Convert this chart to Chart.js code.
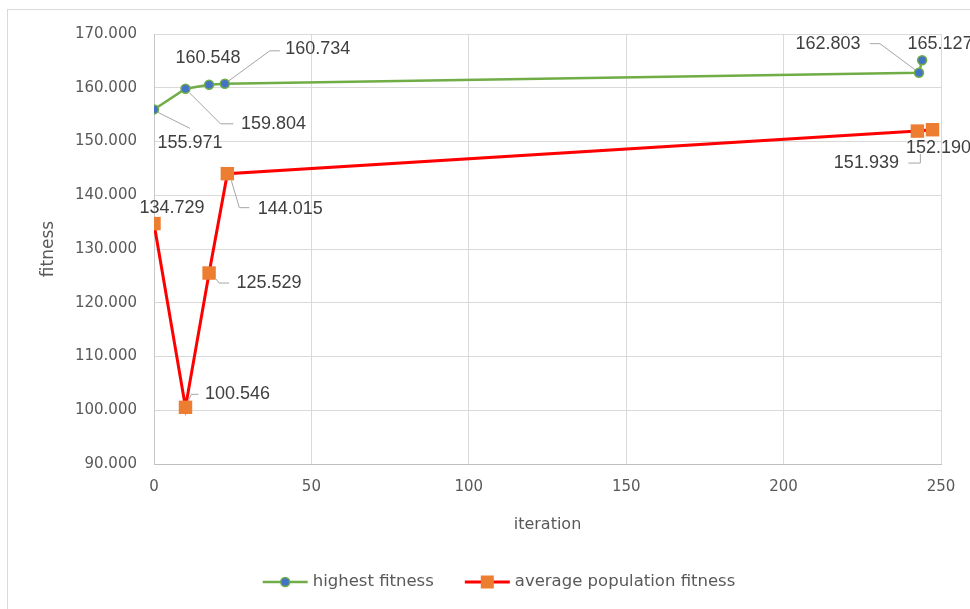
<!DOCTYPE html>
<html>
<head>
<meta charset="utf-8">
<script src="https://cdn.jsdelivr.net/npm/chart.js@4.4.1/dist/chart.umd.min.js"></script>
<style>
  html, body { margin: 0; padding: 0; background: #ffffff; }
  #wrap { width: 970px; height: 609px; position: relative; }
</style>
</head>
<body>
<div id="wrap"><canvas id="c" width="970" height="609"></canvas></div>
<script>
// Iterations at which each series was sampled
const iterHighest = [0, 10, 17.5, 22.5, 243, 244];
const iterAverage = [0, 10, 17.5, 23.3, 242.5, 247.3];

// Fitness values
const highestFitness = [155.971, 159.804, 160.548, 160.734, 162.803, 165.127];
const averageFitness = [134.729, 100.546, 125.529, 144.015, 151.939, 152.190];

// Series names
const seriesNames = ['highest fitness', 'average population fitness'];

// Axis ranges / ticks
const xTicks = [0, 50, 100, 150, 200, 250];
const yTicks = [90, 100, 110, 120, 130, 140, 150, 160, 170];

// Placement of each value label relative to its point (dx, dy) and optional leader line
const labelPlacement = [
  [
    { dx: 36, dy: 34, lead: [[4, 3], [36, 19]] },
    { dx: 88, dy: 35, lead: [[4, 4], [35, 35], [48, 35]] },
    { dx: -1, dy: -27 },
    { dx: 93, dy: -35, lead: [[4, -3], [45, -33], [55, -33]] },
    { dx: -91, dy: -29, lead: [[-49, -29], [-39, -29], [-4, -3]] },
    { dx: 18, dy: -16 }
  ],
  [
    { dx: 18, dy: -16 },
    { dx: 52, dy: -13, lead: [[3, -7], [6, -13], [13, -13]] },
    { dx: 60, dy: 10, lead: [[7, 6], [10, 10], [20, 10]] },
    { dx: 63, dy: 35, lead: [[4, 7], [12, 34], [22, 34]] },
    { dx: -51, dy: 32, lead: [[3, 23], [3, 32], [-9, 32]] },
    { dx: 6, dy: 18 }
  ]
];

const GREEN = '#70AD47', BLUE = '#4472C4', RED = '#FF0000', ORANGE = '#ED7D31';
const TEXT = '#595959', LABEL = '#404040', GRID = '#D9D9D9';

const toPoints = (xs, ys) => xs.map((x, i) => ({ x: x, y: ys[i] }));

const frame = {
  id: 'frame',
  beforeDraw(chart) {
    const ctx = chart.ctx;
    ctx.save();
    ctx.fillStyle = '#ffffff';
    ctx.fillRect(0, 0, chart.width, chart.height);
    ctx.strokeStyle = '#D9D9D9';
    ctx.lineWidth = 1;
    ctx.strokeRect(7.5, 9.5, chart.width + 20, chart.height + 20);
    ctx.restore();
  }
};

const valueLabels = {
  id: 'valueLabels',
  afterDatasetsDraw(chart) {
    const ctx = chart.ctx;
    ctx.save();
    chart.data.datasets.forEach((ds, di) => {
      const meta = chart.getDatasetMeta(di);
      meta.data.forEach((pt, i) => {
        const p = labelPlacement[di][i];
        const x = pt.x, y = pt.y;
        if (p.lead) {
          ctx.beginPath();
          ctx.strokeStyle = '#A6A6A6';
          ctx.lineWidth = 1;
          p.lead.forEach(([a, b], k) => {
            if (k === 0) ctx.moveTo(x + a, y + b); else ctx.lineTo(x + a, y + b);
          });
          ctx.stroke();
        }
        ctx.font = '18px "Liberation Sans"';
        ctx.fillStyle = LABEL;
        ctx.textAlign = 'center';
        ctx.textBaseline = 'middle';
        ctx.fillText(ds.data[i].y.toFixed(3), x + p.dx, y + p.dy);
      });
    });
    ctx.restore();
  }
};

const legendRow = {
  id: 'legendRow',
  afterDraw(chart) {
    const ctx = chart.ctx;
    ctx.save();
    ctx.font = '16.5px "DejaVu Sans"';
    const w1 = ctx.measureText(seriesNames[0]).width;
    const w2 = ctx.measureText(seriesNames[1]).width;
    const sample = 45, gapText = 5, gapItem = 31;
    const total = sample + gapText + w1 + gapItem + sample + gapText + w2;
    let x = 499 - total / 2;
    const y = 582;
    // first entry: green line with blue dot
    ctx.strokeStyle = GREEN; ctx.lineWidth = 2.5;
    ctx.beginPath(); ctx.moveTo(x, y); ctx.lineTo(x + sample, y); ctx.stroke();
    ctx.beginPath(); ctx.arc(x + sample / 2, y, 4.5, 0, Math.PI * 2);
    ctx.fillStyle = BLUE; ctx.fill(); ctx.lineWidth = 1.5; ctx.strokeStyle = GREEN; ctx.stroke();
    ctx.fillStyle = TEXT; ctx.textAlign = 'left'; ctx.textBaseline = 'middle';
    ctx.fillText(seriesNames[0], x + sample + gapText, y);
    x += sample + gapText + w1 + gapItem;
    // second entry: red line with orange square
    ctx.strokeStyle = RED; ctx.lineWidth = 3;
    ctx.beginPath(); ctx.moveTo(x, y); ctx.lineTo(x + sample, y); ctx.stroke();
    ctx.fillStyle = ORANGE;
    ctx.fillRect(x + sample / 2 - 6.5, y - 6.5, 13, 13);
    ctx.fillStyle = TEXT;
    ctx.fillText(seriesNames[1], x + sample + gapText, y);
    ctx.restore();
  }
};

new Chart(document.getElementById('c'), {
  type: 'scatter',
  data: {
    datasets: [
      {
        label: seriesNames[0],
        data: toPoints(iterHighest, highestFitness),
        showLine: true,
        borderColor: GREEN,
        borderWidth: 2.5,
        tension: 0,
        pointStyle: 'circle',
        pointRadius: 4.5,
        pointHoverRadius: 4.5,
        pointBackgroundColor: BLUE,
        pointBorderColor: GREEN,
        pointBorderWidth: 1.5
      },
      {
        label: seriesNames[1],
        data: toPoints(iterAverage, averageFitness),
        showLine: true,
        borderColor: RED,
        borderWidth: 3,
        tension: 0,
        pointStyle: 'rect',
        pointRadius: 9.5,
        pointHoverRadius: 9.5,
        pointBackgroundColor: ORANGE,
        pointBorderColor: ORANGE,
        pointBorderWidth: 0
      }
    ]
  },
  options: {
    responsive: false,
    animation: false,
    events: [],
    layout: { padding: { top: 34, right: 29, bottom: 0, left: 0 } },
    plugins: {
      legend: { display: false },
      tooltip: { enabled: false }
    },
    scales: {
      x: {
        type: 'linear',
        min: xTicks[0],
        max: xTicks[xTicks.length - 1],
        afterBuildTicks(scale) { scale.ticks = xTicks.map(v => ({ value: v })); },
        afterFit(scale) { scale.height = 145; },
        grid: { color: GRID, lineWidth: 1, drawTicks: false },
        border: { color: '#BFBFBF', width: 1 },
        ticks: {
          padding: 14,
          color: TEXT,
          font: { family: 'DejaVu Sans', size: 15 },
          callback: v => String(v)
        },
        title: {
          display: true,
          text: 'iteration',
          color: TEXT,
          font: { family: 'DejaVu Sans', size: 16 },
          padding: { top: 0, bottom: 75 }
        }
      },
      y: {
        type: 'linear',
        min: yTicks[0],
        max: yTicks[yTicks.length - 1],
        afterBuildTicks(scale) { scale.ticks = yTicks.map(v => ({ value: v })); },
        afterFit(scale) { scale.width = 154; },
        grid: { color: GRID, lineWidth: 1, drawTicks: false },
        border: { color: '#C8C8C8', width: 1 },
        ticks: {
          padding: 17,
          color: TEXT,
          font: { family: 'DejaVu Sans', size: 15 },
          callback: v => Number(v).toFixed(3)
        },
        title: {
          display: true,
          text: 'fitness',
          color: TEXT,
          font: { family: 'DejaVu Sans', size: 17 },
          padding: { top: 38, bottom: 0 }
        }
      }
    }
  },
  plugins: [frame, valueLabels, legendRow]
});
</script>
</body>
</html>
